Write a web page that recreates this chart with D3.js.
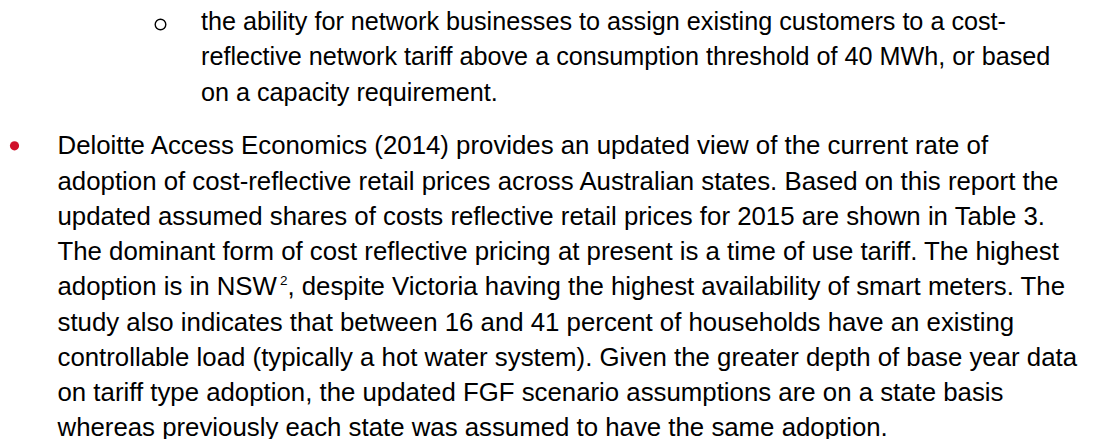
<!DOCTYPE html>
<html>
<head>
<meta charset="utf-8">
<script src="https://cdn.jsdelivr.net/npm/d3@7"></script>
<style>
  html, body { margin: 0; padding: 0; background: #fff; }
  svg { display: block; }
  text { font-family: "Liberation Sans", Arial, sans-serif; fill: #000; }
</style>
</head>
<body>
<svg width="1117" height="439"></svg>
<script>
  // sub bullet text, one entry per printed line
  var subLines = [
    "the ability for network businesses to assign existing customers to a cost-",
    "reflective network tariff above a consumption threshold of 40 MWh, or based",
    "on a capacity requirement."
  ];

  // main bullet text; "^" marks the footnote reference
  var mainLines = [
    "Deloitte Access Economics (2014) provides an updated view of the current rate of",
    "adoption of cost-reflective retail prices across Australian states. Based on this report the",
    "updated assumed shares of costs reflective retail prices for 2015 are shown in Table 3.",
    "The dominant form of cost reflective pricing at present is a time of use tariff. The highest",
    "adoption is in NSW^2, despite Victoria having the highest availability of smart meters. The",
    "study also indicates that between 16 and 41 percent of households have an existing",
    "controllable load (typically a hot water system). Given the greater depth of base year data",
    "on tariff type adoption, the updated FGF scenario assumptions are on a state basis",
    "whereas previously each state was assumed to have the same adoption."
  ];

  var svg = d3.select("svg"),
    subSize = 25.2,
    mainSize = 25.8,
    lineGap = 35.25;

  var ySub = d3.scaleLinear().domain([0, 1]).range([30, 30 + lineGap]);
  var yMain = d3.scaleLinear().domain([0, 1]).range([154.3, 154.3 + lineGap]);

  // hollow sub bullet
  svg.append("circle")
    .attr("cx", 160.5)
    .attr("cy", ySub(0) - 5.5)
    .attr("r", 5.3)
    .attr("fill", "none")
    .attr("stroke", "#000")
    .attr("stroke-width", 1.4);

  // red main bullet
  svg.append("circle")
    .attr("cx", 14.5)
    .attr("cy", yMain(0) - 8.5)
    .attr("r", 4.6)
    .attr("fill", "#d0112b");

  svg.append("g")
    .selectAll("text")
    .data(subLines)
    .enter()
    .append("text")
    .attr("x", 201)
    .attr("y", function (d, i) {
      return ySub(i);
    })
    .style("font-size", subSize + "px")
    .text(function (d) {
      return d;
    });

  var main = svg.append("g")
    .selectAll("text")
    .data(mainLines)
    .enter()
    .append("text")
    .attr("x", 57.5)
    .attr("y", function (d, i) {
      return yMain(i);
    })
    .style("font-size", mainSize + "px");

  main.each(function (d) {
    var t = d3.select(this);
    var parts = d.split(/\^(\d)/);
    if (parts.length == 1) {
      t.text(d);
      return;
    }
    t.append("tspan").text(parts[0]);
    t.append("tspan")
      .attr("dy", -10)
      .attr("dx", 3)
      .style("font-size", "13.5px")
      .text(parts[1]);
    t.append("tspan").attr("dy", 10).text(parts[2]);
  });
</script>
</body>
</html>
